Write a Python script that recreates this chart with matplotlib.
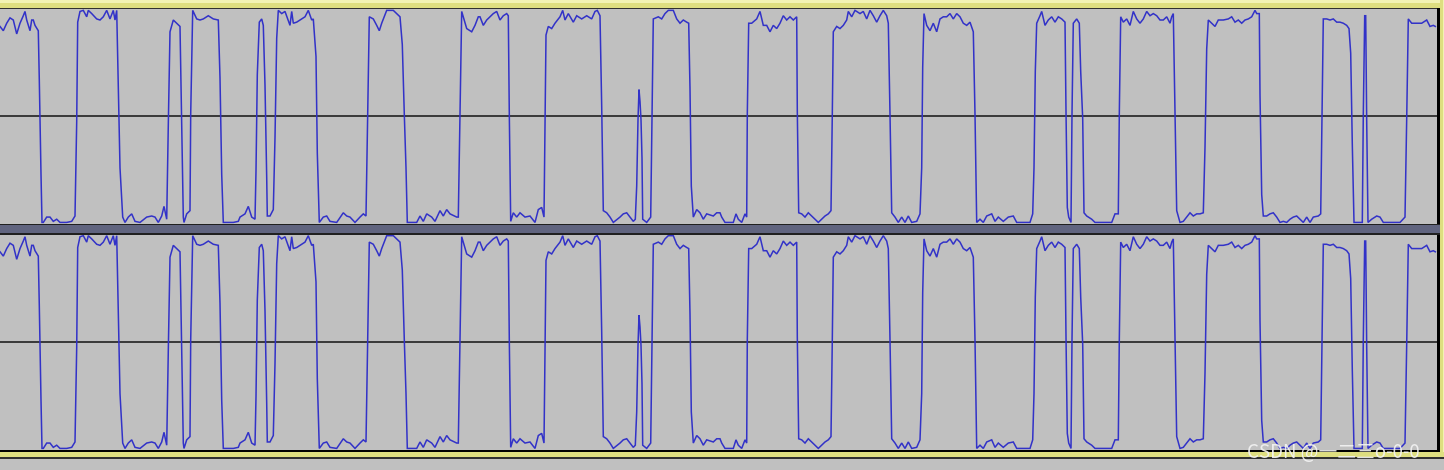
import matplotlib
matplotlib.use("Agg")
import matplotlib.pyplot as plt
from matplotlib.patches import Rectangle

# ---- waveform data (time in samples, amplitude in [-1, 1]); both channels identical ----
time = [
    0, 3.3, 6.7, 10, 13.3, 16.7, 20, 23.3, 25, 26.7, 30, 31.7, 33.3, 35, 38.3, 39.3, 41, 42,
    43.3, 46.7, 50, 53.3, 56.7, 60, 66.7, 71.7, 75, 76.7, 77.7, 80, 83.3, 86.7, 88.3, 91.7,
    96.7, 100, 103.3, 106.7, 110, 113.3, 115, 116.7, 118.3, 120, 122.7, 125, 128.3, 131.7,
    135, 140, 146.7, 151.7, 155, 158.3, 161.7, 164, 166.7, 168.3, 170, 173.3, 176.7, 180,
    181.7, 183.3, 184, 186.7, 190, 190.7, 192.7, 196.7, 200, 203.3, 208.3, 213.3, 218.3,
    220, 221.7, 223.3, 233.3, 238.3,
    240, 245, 248.3, 251.7, 255, 256, 257.3, 259.3, 261.7, 263.3, 265, 266.7, 267.3, 270,
    273.3, 275, 276.7, 278.3, 281.7, 285, 290, 291.7, 293.3, 296.7, 300, 305, 308.3, 311.7,
    313.3, 316, 317.3, 319.3, 323.3, 326.7, 330, 336.7, 343.3, 346.7, 350, 355, 360, 363.3,
    366, 367.7, 369.3, 373.3, 376.7, 379.3, 381.7, 386.7, 393.3, 400, 402.3, 404.3, 406,
    407.3, 416.7, 420, 423.3, 426.7, 431.7, 435, 440, 443.3, 446.7, 450, 456.7, 458.3, 460,
    461.7, 466.7, 471.7, 475, 478.3,
    480, 483.3, 486.7, 490, 493.3, 496.7, 500, 503.3, 506.7, 508.3, 509.3, 510.7, 513.3,
    516.7, 520, 525, 530, 535, 538.3, 541.7, 544, 545, 546, 548.3, 551.7, 555, 560, 562.7,
    565, 568.3, 573.3, 576.7, 581.7, 586.7, 591.7, 595, 597.3, 600, 601.7, 603.3, 606.7,
    610, 613.3, 620, 623.3, 626.7, 630, 633.3, 635.3, 636.7, 638, 639, 640, 641, 642, 642.7,
    646.7, 650.7, 652, 653.3, 658.3, 661.7, 665, 668.3, 673.3, 676.7, 680, 683.3, 686.7,
    688.7, 690, 691.3, 693.3, 696.7, 700, 703.3, 706.7, 713.3, 716.7,
    720, 721.7, 725, 733.3, 736, 738.3, 741.7, 745, 746.7, 747.3, 748.7, 751.7, 756.7, 760,
    763.3, 766.7, 770, 773.3, 776.7, 780, 783.3, 786.7, 790, 793.3, 796.7, 797.3, 798.7,
    801.7, 805, 808.3, 811.7, 815, 818.3, 821.7, 825, 828.3, 831, 832.3, 833.3, 836.7, 840,
    843.3, 846.7, 848.3, 851.7, 855, 860, 863.3, 866.7, 870, 873.3, 876.7, 880, 883.3, 886.7,
    888.3, 890, 891.7, 895, 898.3, 901.7, 905, 908.3, 911.7, 916.7, 920, 921.7, 922.7, 924,
    926.7, 930, 933.3, 936.7, 940, 943.3, 946.7, 950, 953.3, 956.7,
    960, 963.3, 966.7, 970, 973.3, 975, 976.7, 980, 983.3, 986.7, 991.7, 995, 998.3, 1003.3,
    1008.3, 1013.3, 1016.7, 1030, 1032.7, 1034, 1035.3, 1036.7, 1040, 1041.7, 1045, 1048.3,
    1051.7, 1055, 1058.3, 1061.7, 1065, 1066, 1067.3, 1068.7, 1071, 1072, 1073.3, 1076.7,
    1079.3, 1080.7, 1082.7, 1084, 1086.7, 1091.7, 1095, 1111.7, 1115, 1118.3, 1119.3, 1120.7,
    1123.3, 1126.7, 1130, 1133.3, 1136.7, 1140, 1143.3, 1146.7, 1150, 1153.3, 1156.7, 1160,
    1163.3, 1166.7, 1170, 1171.7, 1173.3, 1175, 1176.7, 1180, 1183.3, 1186.7, 1190, 1193.3,
    1196.7,
    1200, 1203.3, 1205, 1206.7, 1208.3, 1211.7, 1215, 1218.3, 1223.3, 1228.3, 1231.7, 1235,
    1238.3, 1241.7, 1245, 1248.3, 1251.7, 1255, 1256.7, 1259.3, 1260, 1261.7, 1263.3, 1266.7,
    1270, 1273.3, 1276.7, 1280, 1283.3, 1286.7, 1290, 1293.3, 1296.7, 1300, 1303.3, 1306.7,
    1310, 1313.3, 1318.3, 1320.7, 1322, 1323.3, 1326.7, 1330, 1333.3, 1336.7, 1340, 1343.3,
    1346.7, 1349, 1350.7, 1352.3, 1354, 1362.3, 1363.3, 1364.7, 1365.7, 1366.7, 1368, 1371.7,
    1376.7, 1380, 1383.3, 1400, 1405, 1406.7, 1408.3, 1411.7, 1416.7, 1421.7, 1426.7, 1430,
    1433.3, 1435.3,
]

amplitude = [
    0.84, 0.80, 0.87, 0.92, 0.90, 0.77, 0.87, 0.94, 0.98, 0.90, 0.80, 0.90, 0.90, 0.85, 0.80,
    0.34, -0.54, -0.99,
    -0.99, -0.94, -0.94, -0.98, -0.96, -0.99, -0.99, -0.98, -0.93, -0.05, 0.88, 0.98, 0.99,
    0.93, 0.99, 0.96, 0.91, 0.90, 0.93, 0.99, 0.91, 0.99, 0.90, 0.99, 0.29, -0.48, -0.94,
    -0.99, -0.94, -0.91, -0.98, -0.99, -0.94, -0.93, -0.94, -0.99, -0.93, -0.84, -0.96,
    -0.08, 0.79, 0.90, 0.87, 0.84, -0.08, -0.94, -0.99, -0.91, -0.88, 0.02, 0.99, 0.91, 0.90,
    0.91, 0.94, 0.91, 0.90, 0.36, -0.54, -0.99, -0.99, -0.98,
    -0.94, -0.91, -0.84, -0.94, -0.96, -0.51, 0.39, 0.88, 0.91, 0.85, 0.29, -0.57, -0.93,
    -0.93, -0.87, -0.20, 0.73, 0.99, 0.96, 0.98, 0.85, 0.98, 0.87, 0.88, 0.90, 0.93, 0.99,
    0.90, 0.91, 0.56, -0.34, -0.99, -0.94, -0.93, -0.98, -0.99, -0.90, -0.93, -0.94, -0.99,
    -0.94, -0.91, -0.93, 0.02, 0.93, 0.91, 0.85, 0.80, 0.87, 0.99, 0.99, 0.93, 0.67, 0.02,
    -0.48, -0.99, -0.99, -0.93, -0.98, -0.91, -0.94, -0.98, -0.88, -0.93, -0.87, -0.91,
    -0.94, -0.94, 0.02, 0.98, 0.82, 0.79, 0.85, 0.93,
    0.93, 0.85, 0.90, 0.93, 0.96, 0.98, 0.90, 0.94, 0.96, 0.94, 0.02, -0.98, -0.90, -0.94,
    -0.90, -0.94, -0.93, -0.99, -0.87, -0.85, -0.94, -0.05, 0.76, 0.84, 0.82, 0.87, 0.93,
    0.99, 0.90, 0.96, 0.88, 0.94, 0.91, 0.94, 0.91, 0.98, 0.99, 0.94, 0.09, -0.88, -0.90,
    -0.94, -0.99, -0.94, -0.91, -0.90, -0.94, -0.98, -0.96, -0.65, -0.03, 0.25, 0.14, -0.03,
    -0.39, -0.96, -0.99, -0.94, 0.00, 0.91, 0.93, 0.91, 0.96, 0.99, 0.99, 0.91, 0.87, 0.90,
    0.88, 0.87, 0.26, -0.65, -0.94, -0.87, -0.90, -0.96, -0.91, -0.93, -0.90,
    -0.90, -0.94, -0.99, -0.99, -0.91, -0.96, -0.99, -0.91, -0.94, 0.02, 0.87, 0.87, 0.91,
    0.98, 0.85, 0.85, 0.79, 0.85, 0.82, 0.87, 0.94, 0.90, 0.93, 0.90, 0.93, 0.05, -0.90,
    -0.91, -0.94, -0.90, -0.93, -0.96, -0.99, -0.96, -0.93, -0.91, -0.88, 0.02, 0.79, 0.84,
    0.82, 0.85, 0.90, 0.98, 0.93, 0.99, 0.96, 0.98, 0.91, 0.99, 0.94, 0.88, 0.94, 0.99, 0.94,
    0.87, 0.02, -0.90, -0.94, -0.99, -0.94, -0.99, -0.93, -0.99, -0.98, -0.91, -0.48, 0.46,
    0.96, 0.85, 0.80, 0.87, 0.79, 0.91, 0.93, 0.93, 0.96, 0.91, 0.96,
    0.93, 0.87, 0.85, 0.88, 0.79, 0.02, -0.99, -0.96, -0.99, -0.93, -0.91, -0.98, -0.94,
    -0.98, -0.94, -0.93, -0.99, -0.99, -0.91, -0.48, 0.42, 0.87, 0.94, 0.98, 0.85, 0.90,
    0.93, 0.88, 0.93, 0.91, 0.88, 0.05, -0.85, -0.94, -0.99, 0.02, 0.87, 0.91, 0.87, 0.42,
    -0.02, -0.90, -0.93, -0.96, -0.99, -0.99, -0.91, -0.91, 0.02, 0.93, 0.88, 0.91, 0.85,
    0.98, 0.91, 0.87, 0.91, 0.98, 0.94, 0.96, 0.94, 0.90, 0.90, 0.93, 0.87, 0.93, 0.96, 0.05,
    -0.88, -0.99, -0.98, -0.94, -0.90, -0.93, -0.91,
    -0.91, -0.90, -0.29, 0.63, 0.90, 0.87, 0.84, 0.90, 0.90, 0.91, 0.93, 0.88, 0.90, 0.87,
    0.90, 0.91, 0.93, 0.99, 0.96, 0.96, 0.20, -0.73, -0.93, -0.93, -0.91, -0.90, -0.94,
    -0.99, -0.98, -0.99, -0.96, -0.94, -0.93, -0.96, -0.99, -0.94, -0.99, -0.94, -0.93,
    -0.91, 0.02, 0.91, 0.91, 0.90, 0.91, 0.88, 0.88, 0.87, 0.85, 0.82, 0.59, -0.26, -0.99,
    -0.99, 0.02, 0.94, 0.94, -0.05, -0.99, -0.96, -0.93, -0.94, -0.99, -0.99, -0.94, -0.02,
    0.91, 0.87, 0.87, 0.87, 0.90, 0.84, 0.85, 0.84,
]

watermark = "CSDN @一二三o-0-0"

# ---- figure ----
W, H = 1444, 470
fig = plt.figure(figsize=(W / 100, H / 100), dpi=100)
fig.patch.set_facecolor("#c0c0c0")

# background/frame axes in pixel coordinates
bg = fig.add_axes([0, 0, 1, 1])
bg.set_xlim(0, W)
bg.set_ylim(H, 0)
bg.axis("off")
bg.set_facecolor("#c0c0c0")

# top yellow border
bg.add_patch(Rectangle((0, 0), W, 2.5, color="#f2f2b4", lw=0))
bg.add_patch(Rectangle((0, 2.5), W, 5, color="#dede80", lw=0))
bg.add_patch(Rectangle((0, 7.5), 1437, 1.8, color="#303030", lw=0))
# right border
bg.add_patch(Rectangle((1436.5, 7.5), 3, 451, color="#000000", lw=0))
bg.add_patch(Rectangle((1439.5, 0), 3.5, 458, color="#dede80", lw=0))
bg.add_patch(Rectangle((1443, 0), 1, 458, color="#f2f2b4", lw=0))
# separator between channels
bg.add_patch(Rectangle((0, 223.5), 1440, 1.8, color="#202020", lw=0))
bg.add_patch(Rectangle((0, 225.3), 1440, 7.5, color="#60647f", lw=0))
bg.add_patch(Rectangle((0, 232.8), 1440, 1.8, color="#202020", lw=0))
# bottom border
bg.add_patch(Rectangle((0, 449.5), 1440, 2.5, color="#000000", lw=0))
bg.add_patch(Rectangle((0, 452), W, 5, color="#dede80", lw=0))
bg.add_patch(Rectangle((0, 457), W, 1.5, color="#303030", lw=0))

wave_color = "#3232c8"
channel_px = [(9.3, 223.5), (234.6, 449.5)]
for top, bottom in channel_px:
    ax = fig.add_axes([0, 1 - bottom / H, 1436.5 / W, (bottom - top) / H])
    ax.set_xlim(0, 1436.5)
    ax.set_ylim(-1, 1)
    ax.axis("off")
    ax.patch.set_alpha(0)
    ax.axhline(0, color="#383838", lw=1.4, zorder=1)
    ax.plot(time, amplitude, color=wave_color, lw=1.1, zorder=2,
            solid_joinstyle="miter", antialiased=True)

fig.text(1247 / W, 1 - 453 / H, watermark, color="#f4f4f4", alpha=0.9,
         fontsize=13.5, ha="left", va="center",
         family=["Noto Sans CJK SC", "DejaVu Sans"])

fig.savefig("out.png", dpi=100, facecolor=fig.get_facecolor())
